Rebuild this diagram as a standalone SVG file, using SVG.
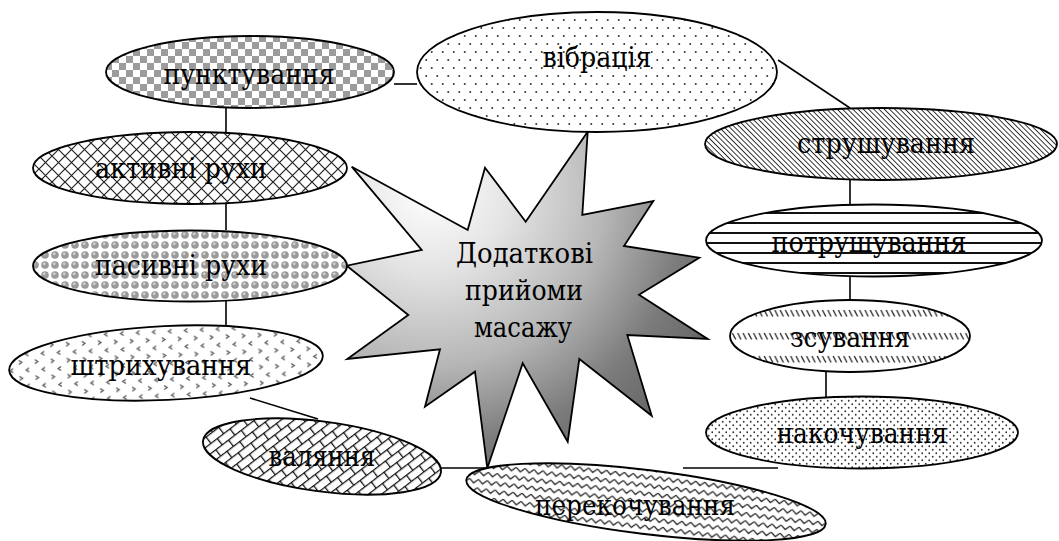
<svg xmlns="http://www.w3.org/2000/svg" width="1059" height="541" viewBox="0 0 1059 541">
<defs>
<style>
.n{stroke:#000;stroke-width:1.8}
.c{stroke:#000;stroke-width:1.6;fill:none}
.t{font-family:"DejaVu Serif","Liberation Serif",serif;font-size:28px;fill:#000;text-anchor:middle}
</style>
<radialGradient id="gStar" gradientUnits="userSpaceOnUse" cx="430" cy="190" r="320">
<stop offset="0" stop-color="#ffffff"/>
<stop offset="0.25" stop-color="#e4e4e4"/>
<stop offset="0.55" stop-color="#b6b6b6"/>
<stop offset="0.8" stop-color="#7c7c7c"/>
<stop offset="1" stop-color="#646464"/>
</radialGradient>
<pattern id="pChecker" width="14" height="14" patternUnits="userSpaceOnUse">
<rect width="14" height="14" fill="#fff"/>
<rect width="7" height="7" fill="#9c9c9c"/>
<rect x="7" y="7" width="7" height="7" fill="#9c9c9c"/>
</pattern>
<pattern id="pDiamond" width="13" height="13" patternUnits="userSpaceOnUse">
<rect width="13" height="13" fill="#fff"/>
<path d="M0,0 L13,13 M13,0 L0,13" stroke="#222" stroke-width="1.2"/>
</pattern>
<pattern id="pBalls" width="10" height="10" patternUnits="userSpaceOnUse">
<rect width="10" height="10" fill="#fff"/>
<circle cx="5" cy="5" r="3.8" fill="#9a9a9a"/>
<circle cx="4.2" cy="3.8" r="1.4" fill="#d2d2d2"/>
</pattern>
<pattern id="pDivot" width="16" height="16" patternUnits="userSpaceOnUse">
<rect width="16" height="16" fill="#fff"/>
<path d="M3,1.5 L6,3.5 L3,5.5 M13,9.5 L10,11.5 L13,13.5" stroke="#555" stroke-width="1.3" fill="none"/>
</pattern>
<pattern id="pBrick" width="16" height="16" patternUnits="userSpaceOnUse" patternTransform="rotate(-45)">
<rect width="16" height="16" fill="#fff"/>
<path d="M0,0.6 H16 M0,8.6 H16 M0.6,0.6 V8.6 M8.6,8.6 V16.6" stroke="#111" stroke-width="1.3" fill="none"/>
</pattern>
<pattern id="pDots" width="11" height="16" patternUnits="userSpaceOnUse">
<rect width="11" height="16" fill="#fff"/>
<circle cx="2.75" cy="4" r="1" fill="#333"/>
<circle cx="8.25" cy="12" r="1" fill="#333"/>
</pattern>
<pattern id="pDiag" width="3.7" height="3.7" patternUnits="userSpaceOnUse" patternTransform="rotate(-45)">
<rect width="3.7" height="3.7" fill="#fff"/>
<rect x="0" y="0" width="0.9" height="3.7" fill="#222"/>
</pattern>
<pattern id="pHoriz" width="10" height="10" patternUnits="userSpaceOnUse" y="2">
<rect width="10" height="10" fill="#fff"/>
<rect y="0" width="10" height="2" fill="#111"/>
</pattern>
<pattern id="pDash" width="5.3" height="23" patternUnits="userSpaceOnUse" y="10">
<rect width="5.3" height="23" fill="#fff"/>
<path d="M1,1 L4.3,7.5" stroke="#333" stroke-width="1.4"/>
</pattern>
<pattern id="pFine" width="7" height="7" patternUnits="userSpaceOnUse">
<rect width="7" height="7" fill="#fff"/>
<circle cx="1.75" cy="1.75" r="0.9" fill="#333"/>
<circle cx="5.25" cy="5.25" r="0.9" fill="#333"/>
</pattern>
<pattern id="pZig" width="9" height="8.3" patternUnits="userSpaceOnUse">
<rect width="9" height="8.3" fill="#fff"/>
<path d="M0,2 L4.5,6 L9,2" stroke="#222" stroke-width="1.3" fill="none"/>
</pattern>
</defs>
<rect width="1059" height="541" fill="#fff"/>

<g id="connectors">
<line class="c" x1="394" y1="84" x2="417" y2="84"/>
<line class="c" x1="778" y1="60" x2="850" y2="108"/>
<line class="c" x1="226" y1="108" x2="226" y2="132"/>
<line class="c" x1="226" y1="204" x2="226" y2="230"/>
<line class="c" x1="226" y1="301" x2="226" y2="326"/>
<line class="c" x1="250" y1="398" x2="318" y2="419"/>
<line class="c" x1="441" y1="468" x2="488" y2="468"/>
<line class="c" x1="683" y1="468" x2="778" y2="468"/>
<line class="c" x1="850" y1="180" x2="850" y2="204"/>
<line class="c" x1="850" y1="276" x2="850" y2="300"/>
<line class="c" x1="826" y1="371" x2="826" y2="397"/>
</g>

<g id="star">
<polygon class="n" fill="url(#gStar)" points="587.7,131.7 582.3,215 653.3,201 624,246 699.3,257.7 639,294.7 707.7,339 627.3,335 651.7,415.7 579.3,359 567.7,441.7 522.7,363.3 487.3,468.3 475,371.7 425,406.7 440,349.3 347.3,359 408.3,315 346.7,265.7 421.7,250 351.7,166.7 467.7,230 485,167.7 525.7,221.7"/>
<text class="t" x="524.5" y="263" textLength="137" lengthAdjust="spacingAndGlyphs">Додаткові</text>
<text class="t" x="524" y="300" textLength="118" lengthAdjust="spacingAndGlyphs">прийоми</text>
<text class="t" x="523" y="337" textLength="98" lengthAdjust="spacingAndGlyphs">масажу</text>
</g>

<g id="punktuvannia">
<ellipse class="n" fill="url(#pChecker)" cx="250" cy="72" rx="144" ry="36"/>
<text class="t" x="249" y="84" textLength="171" lengthAdjust="spacingAndGlyphs">пунктування</text>
</g>
<g id="vibratsiia">
<ellipse class="n" fill="url(#pDots)" cx="597" cy="72" rx="180" ry="60"/>
<text class="t" x="597" y="67" textLength="109" lengthAdjust="spacingAndGlyphs">вібрація</text>
</g>
<g id="aktyvni">
<ellipse class="n" fill="url(#pDiamond)" cx="190" cy="168" rx="157" ry="36"/>
<text class="t" x="181" y="178" textLength="172" lengthAdjust="spacingAndGlyphs">активні рухи</text>
</g>
<g id="pasyvni">
<ellipse class="n" fill="url(#pBalls)" cx="190" cy="266" rx="157" ry="35.5"/>
<text class="t" x="181" y="275" textLength="172" lengthAdjust="spacingAndGlyphs">пасивні рухи</text>
</g>
<g id="shtrykhuvannia">
<ellipse class="n" fill="url(#pDivot)" cx="166" cy="363" rx="157" ry="37" transform="rotate(-2.7 166 363)"/>
<text class="t" x="161" y="375" textLength="181" lengthAdjust="spacingAndGlyphs">штрихування</text>
</g>
<g id="valiannia">
<ellipse class="n" fill="url(#pBrick)" cx="322" cy="456.5" rx="120" ry="35" transform="rotate(7.6 322 456.5)"/>
<text class="t" x="322" y="466" textLength="107" lengthAdjust="spacingAndGlyphs">валяння</text>
</g>
<g id="perekochuvannia">
<ellipse class="n" fill="url(#pZig)" cx="646" cy="502" rx="181" ry="32" transform="rotate(7 646 502)"/>
<text class="t" x="635" y="515" textLength="200" lengthAdjust="spacingAndGlyphs">перекочування</text>
</g>
<g id="strushuvannia">
<ellipse class="n" fill="url(#pDiag)" cx="881" cy="144" rx="176" ry="36"/>
<text class="t" x="886" y="153" textLength="178" lengthAdjust="spacingAndGlyphs">струшування</text>
</g>
<g id="potrushuvannia">
<ellipse class="n" fill="url(#pHoriz)" cx="874" cy="240.5" rx="168" ry="36"/>
<text class="t" x="869" y="252" textLength="195" lengthAdjust="spacingAndGlyphs">потрушування</text>
</g>
<g id="zsuvannia">
<ellipse class="n" fill="url(#pDash)" cx="850" cy="336" rx="120" ry="36"/>
<text class="t" x="850" y="347" textLength="120" lengthAdjust="spacingAndGlyphs">зсування</text>
</g>
<g id="nakochuvannia">
<ellipse class="n" fill="url(#pFine)" cx="862" cy="432.5" rx="156" ry="36"/>
<text class="t" x="862" y="443" textLength="171" lengthAdjust="spacingAndGlyphs">накочування</text>
</g>
</svg>
